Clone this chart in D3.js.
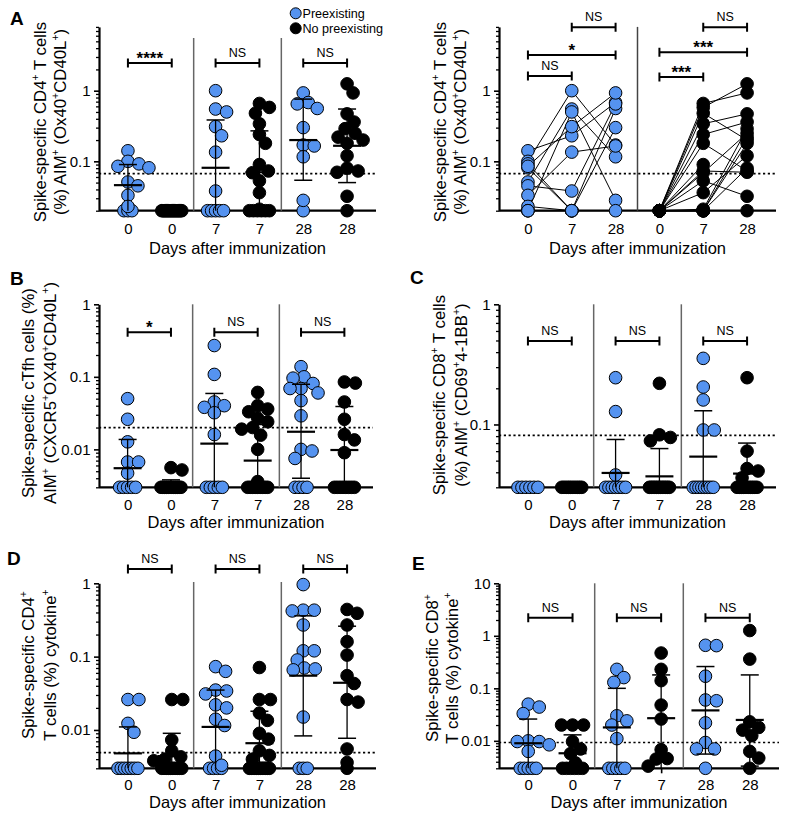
<!DOCTYPE html>
<html><head><meta charset="utf-8">
<script src="https://cdn.jsdelivr.net/npm/d3@7"></script>
<style>body{margin:0;background:#fff} svg text{font-family:"Liberation Sans",Arial,Helvetica,sans-serif;fill:#000}</style>
</head><body><svg id="c" width="793" height="819"></svg>
<script>
// ---------------- DATA ----------------
const dayLabels = ["0","0","7","7","28","28"];
const pairedDayLabels = ["0","7","28","0","7","28"];
const seriesNames = ["Preexisting","No preexisting"];
const colGroup = [0,1,0,1,0,1];
const xTitle = "Days after immunization";

// Panel A: paired subjects (day 0, day 7, day 28); null = missing
const aPreD0  = [0.141,0.10,0.092,0.081,0.051,0.045,0.033,0.023,0.02,0.085,0.02,0.02];
const aPreD7  = [0.23,1.0,0.02,0.02,0.55,0.038,0.135,0.02,0.5,0.31,0.02,0.02];
const aPreD28 = [0.68,0.17,0.56,null,0.116,0.65,0.165,0.3,0.028,0.93,0.02,null];
const aNoD0   = [0.02,0.02,0.02,0.02,0.02,0.02,0.02,0.02,0.02,0.02,0.02,0.02,0.02,0.02,0.02,0.02,0.02,0.02];
const aNoD7   = [0.66,0.58,0.48,0.34,0.24,0.18,0.09,0.073,0.069,0.053,0.036,0.021,0.02,0.02,0.02,0.02,0.02,0.02];
const aNoD28  = [0.93,1.25,0.2,0.47,0.36,0.073,null,0.07,0.25,0.032,0.12,0.29,0.22,0.18,0.08,0.02,null,null];
const aMean  = [0.046,null,0.081,0.07,0.2,0.166];
const aUpper = [0.09,null,0.385,0.27,0.76,0.55];
const aLower = [null,null,null,null,0.054,0.05];
const aThreshold = 0.067;
const aBrackets = ["****","NS","NS"];
const aPairBrackets = [[0,1,"NS"],[0,2,"*"],[1,2,"NS"],[3,4,"***"],[3,5,"***"],[4,5,"NS"]];

// Panel B
const bPre0  = [0.05,0.026,0.0127,0.0067,0.0067,0.0047,0.003,0.003,0.003,0.003,0.003];
const bNo0   = [0.0056,0.0052,0.003,0.003,0.003,0.003,0.003,0.003,0.003,0.003,0.003,0.003,0.003,0.003];
const bPre7  = [0.27,0.108,0.045,0.04,0.038,0.032,0.016,0.003,0.003,0.003,0.003,0.003];
const bNo7   = [0.061,0.04,0.036,0.033,0.027,0.024,0.02,0.019,0.0157,0.01,0.0036,0.003,0.003,0.003,0.003,0.003,0.003,0.003,0.003,0.003];
const bPre28 = [0.138,0.1,0.096,0.081,0.069,0.069,0.06,0.047,0.029,0.01,0.0095,0.0075,0.003,0.003,0.003,0.003];
const bNo28  = [0.085,0.082,0.045,0.026,0.016,0.0135,0.009,0.003,0.003,0.003,0.003,0.003,0.003,0.003,0.003];
const bMean  = [0.0055,0.0032,0.012,0.007,0.0175,0.0098];
const bUpper = [0.0137,0.0038,0.059,0.022,0.079,0.039];
const bLower = [null,null,null,null,0.004,null];
const bThreshold = 0.02;
const bBrackets = ["*","NS","NS"];

// Panel C
const cPre0  = [0.03,0.03,0.03,0.03,0.03,0.03];
const cNo0   = [0.03,0.03,0.03,0.03,0.03,0.03,0.03,0.03,0.03,0.03];
const cPre7  = [0.245,0.128,0.038,0.03,0.03,0.03,0.03,0.03,0.03,0.03];
const cNo7   = [0.22,0.082,0.078,0.073,0.03,0.03,0.03,0.03,0.03,0.03,0.03,0.03,0.03,0.03,0.03,0.03];
const cPre28 = [0.355,0.205,0.16,0.09,0.09,0.03,0.03,0.03,0.03,0.03,0.03,0.03,0.03];
const cNo28  = [0.245,0.06,0.043,0.041,0.036,0.03,0.03,0.03,0.03,0.03,0.03,0.03,0.03,0.03,0.03];
const cMean  = [null,null,0.0395,0.037,0.054,0.039];
const cUpper = [null,null,0.075,0.063,0.13,0.07];
const cLower = [null,null,null,null,null,null];
const cThreshold = 0.081;
const cBrackets = ["NS","NS","NS"];

// Panel D
const dPre0  = [0.026,0.026,0.0123,0.0093,0.003,0.003,0.003,0.003,0.003,0.003,0.003];
const dNo0   = [0.026,0.026,0.0073,0.0052,0.0043,0.004,0.0038,0.003,0.003,0.003,0.003,0.003,0.003,0.003,0.003,0.003,0.003];
const dPre7  = [0.073,0.063,0.035,0.034,0.031,0.022,0.02,0.014,0.0115,0.0044,0.0033,0.003,0.003,0.003,0.003];
const dNo7   = [0.071,0.026,0.026,0.017,0.0135,0.009,0.0075,0.0052,0.0045,0.004,0.003,0.003,0.003,0.003,0.003,0.003,0.003,0.003,0.003,0.003,0.003,0.003];
const dPre28 = [0.96,0.43,0.42,0.43,0.27,0.12,0.12,0.09,0.07,0.068,0.066,0.015,0.003,0.003,0.003];
const dNo28  = [0.44,0.39,0.27,0.16,0.105,0.055,0.043,0.026,0.024,0.0055,0.0036,0.003];
const dMean  = [0.0048,0.0044,0.011,0.0066,0.055,0.044];
const dUpper = [0.011,0.009,0.035,0.018,0.36,0.26];
const dLower = [null,null,null,null,0.0083,0.0077];
const dThreshold = 0.0049;
const dBrackets = ["NS","NS","NS"];

// Panel E
const ePre0  = [0.05,0.044,0.033,0.01,0.0097,0.0097,0.0084,0.0063,0.003,0.003,0.003,0.003,0.003];
const eNo0   = [0.02,0.02,0.02,0.0097,0.007,0.0057,0.0038,0.003,0.003,0.003,0.003,0.003,0.003];
const ePre7  = [0.23,0.16,0.13,0.03,0.024,0.02,0.011,0.003,0.003,0.003,0.003,0.003];
const eNo7   = [0.47,0.23,0.14,0.048,0.026,0.0068,0.0046,0.0045,0.0033];
const ePre28 = [0.66,0.65,0.17,0.06,0.058,0.022,0.0093,0.007,0.007,0.003];
const eNo28  = [1.26,0.36,0.023,0.018,0.016,0.0125,0.0063,0.0047,0.003];
const eMean  = [0.009,0.0058,0.018,0.027,0.038,0.025];
const eUpper = [0.026,0.013,0.1,0.18,0.26,0.18];
const eLower = [null,null,null,null,0.0056,0.0033];
const eThreshold = 0.0093;
const eBrackets = ["NS","NS","NS"];

// ---------------- LAYOUT / STYLE ----------------
const COLORS = ["#5593f0","#000000"];
const R = 6.3;
const svg = d3.select("#c");

const P = {
  A:  {x0:99,x1:376,yTop:26.9,yBot:210.7,domain:[0.02,8],letter:"A",lx:10,ly:25,
       ylab:["Spike-specific CD4{+} T cells","(%) AIM{+} (Ox40{+}CD40L{+})"],ylx:[40,60],yly:122,
       tickPad:8,titleOff:37.5,sepTop:38,brY:63},
  A2: {x0:499,x1:776,yTop:26.9,yBot:210.7,domain:[0.02,8],
       ylab:["Spike-specific CD4{+} T cells","(%) AIM{+} (Ox40{+}CD40L{+})"],ylx:[440,460],yly:122,
       tickPad:8,titleOff:37.5,sepTop:26.9,brYs:[76,55,27.3,77,52.3,27.3]},
  B:  {x0:99,x1:373,yTop:304.3,yBot:487.3,domain:[0.003,1],letter:"B",lx:10,ly:285,
       ylab:["Spike-specific cTfh cells (%)","AIM{+} (CXCR5{+}OX40{+}CD40L{+})"],ylx:[28,50],yly:393,
       tickPad:7,titleOff:34.5,sepTop:304.3,brY:332.3},
  C:  {x0:499,x1:776,yTop:304.3,yBot:487.3,domain:[0.03,1],letter:"C",lx:410,ly:284,
       ylab:["Spike-specific CD8{+} T cells","(%) AIM{+} (CD69{+}4-1BB{+})"],ylx:[439,461],yly:395,
       tickPad:7,titleOff:34.5,sepTop:304.3,brY:341},
  D:  {x0:99,x1:376,yTop:583.3,yBot:768.3,domain:[0.003,1],letter:"D",lx:7,ly:565,
       ylab:["Spike-specific CD4{+}","T cells (%) cytokine{+}"],ylx:[28,50],yly:665,
       tickPad:6,titleOff:34,sepTop:582,brY:569},
  E:  {x0:499,x1:779,yTop:583.3,yBot:768.3,domain:[0.003,10],letter:"E",lx:412,ly:570,
       ylab:["Spike-specific CD8{+}","T cells (%) cytokine{+}"],ylx:[432,452],yly:668,
       tickPad:6,titleOff:34,sepTop:583.3,brY:617.7}
};

function supText(sel, str, fs){
  const parts = str.split(/(\{[^}]*\})/).filter(s=>s.length);
  let up = false;
  parts.forEach(s=>{
    if (s[0]==="{"){
      sel.append("tspan").attr("font-size",fs*0.62).attr("dy",-fs*0.42).text(s.slice(1,-1));
      up = true;
    } else {
      const t = sel.append("tspan").text(s);
      if (up){ t.attr("dy",fs*0.42); up=false; }
    }
  });
}

function drawFrame(p, labels){
  const g = svg.append("g");
  const y = d3.scaleLog().domain(p.domain).range([p.yBot,p.yTop]);
  const x = d3.scalePoint().domain(d3.range(labels.length)).range([p.x0,p.x1]).padding(0.66);
  const lo=Math.log10(p.domain[0]), hi=Math.log10(p.domain[1]);
  const majors=[], minors=[];
  for(let e=Math.floor(lo)-1;e<=Math.ceil(hi);e++){
    for(let k=1;k<10;k++){
      const v=+(k*Math.pow(10,e)).toPrecision(6);
      if(v<p.domain[0]*0.999||v>p.domain[1]*1.001) continue;
      (k===1?majors:minors).push(v);
    }
  }
  const ya = g.append("g").attr("transform",`translate(${p.x0},0)`)
    .call(d3.axisLeft(y).tickValues(majors).tickFormat(v=>String(v)).tickSize(5).tickSizeOuter(0).tickPadding(3.5));
  ya.select(".domain").attr("stroke-width",2.2).attr("stroke","#000");
  ya.selectAll(".tick line").attr("stroke-width",1.6);
  ya.selectAll(".tick text").attr("font-size",15).attr("font-family","Liberation Sans, Arial, sans-serif");
  const ym = g.append("g").attr("transform",`translate(${p.x0},0)`)
    .call(d3.axisLeft(y).tickValues(minors).tickFormat("").tickSize(3).tickSizeOuter(0));
  ym.select(".domain").remove();
  ym.selectAll(".tick line").attr("stroke-width",1.3);
  const xa = g.append("g").attr("transform",`translate(0,${p.yBot})`)
    .call(d3.axisBottom(x).tickFormat(i=>labels[i]).tickSize(5).tickSizeOuter(0).tickPadding(p.tickPad));
  xa.select(".domain").attr("stroke-width",2.2).attr("stroke","#000").attr("d",`M${p.x0},0H${p.x1}`);
  xa.selectAll(".tick line").attr("stroke-width",1.6);
  xa.selectAll(".tick text").attr("font-size",15).attr("font-family","Liberation Sans, Arial, sans-serif");
  g.append("text").attr("x",(p.x0+p.x1)/2).attr("y",p.yBot+p.titleOff+6).attr("text-anchor","middle")
    .attr("font-size",16.5).text(xTitle);
  p.ylab.forEach((l,i)=>{
    const t = g.append("text").attr("transform",`translate(${p.ylx[i]+16.8*0.35},${p.yly}) rotate(-90)`)
      .attr("text-anchor","middle").attr("font-size",16.8);
    supText(t,l,16.8);
  });
  if(p.letter) g.append("text").attr("x",p.lx).attr("y",p.ly).attr("font-size",19).attr("font-weight","bold").text(p.letter);
  return {g,x,y};
}

function bracket(g,x1,x2,yb,label){
  g.append("path").attr("d",`M${x1},${yb-4.5}V${yb+4.5}M${x1},${yb}H${x2}M${x2},${yb-4.5}V${yb+4.5}`)
    .attr("stroke","#000").attr("stroke-width",2).attr("fill","none");
  const isStar = label.indexOf("*")>=0;
  g.append("text").attr("x",(x1+x2)/2).attr("y",isStar?yb+1:yb-6).attr("text-anchor","middle")
    .attr("font-size",isStar?17:12.5).attr("font-weight",isStar?"bold":"normal").text(label);
}

function swarm(vals, y, floorVal, cx){
  const out=[];
  const floor = vals.filter(v=>v<=floorVal*1.0001);
  const rest = vals.filter(v=>v>floorVal*1.0001).slice().sort((a,b)=>b-a);
  const n=floor.length, w=Math.min((n-1)*4,20);
  floor.forEach((v,i)=>out.push({x:cx+(n>1?-w/2+i*w/(n-1):0),y:y(v)}));
  const placed=[]; const D=10.5;
  rest.forEach(v=>{
    const py=y(v);
    for(let k=0;k<400;k++){
      const off = k===0?0:(k%2===1?(k+1)/2:-k/2);
      let ok=true;
      for(const q of placed){const dx=off-q.dx,dy=py-q.y; if(dx*dx+dy*dy<D*D){ok=false;break;}}
      if(ok){placed.push({dx:off,y:py}); out.push({x:cx+off,y:py}); break;}
    }
  });
  return out;
}

function drawGrouped(p, cols, mean, upper, lower, thr, brLabels, legend){
  const {g,x,y} = drawFrame(p, dayLabels);
  [(x(1)+x(2))/2,(x(3)+x(4))/2].forEach(sx=>{
    g.append("line").attr("x1",sx).attr("x2",sx).attr("y1",p.sepTop).attr("y2",p.yBot)
      .attr("stroke","#666").attr("stroke-width",1.5);
  });
  g.append("line").attr("x1",p.x0).attr("x2",p.x1).attr("y1",y(thr)).attr("y2",y(thr))
    .attr("stroke","#000").attr("stroke-width",1.7).attr("stroke-dasharray","2.2,2.6");
  cols.forEach((vals,i)=>{
    const pts = swarm(vals,y,p.domain[0],x(i));
    g.append("g").selectAll("circle").data(pts).join("circle")
      .attr("cx",d=>d.x).attr("cy",d=>d.y).attr("r",R)
      .attr("fill",COLORS[colGroup[i]]).attr("stroke","#000").attr("stroke-width",1);
  });
  cols.forEach((vals,i)=>{
    if(mean[i]==null) return;
    const cx=x(i), eb=g.append("g").attr("stroke","#000").attr("fill","none");
    const yu = upper[i]!=null?y(upper[i]):y(mean[i]);
    const yl = lower[i]!=null?y(lower[i]):p.yBot;
    eb.append("line").attr("x1",cx).attr("x2",cx).attr("y1",yu).attr("y2",yl).attr("stroke-width",1.3);
    if(upper[i]!=null) eb.append("line").attr("x1",cx-9).attr("x2",cx+9).attr("y1",yu).attr("y2",yu).attr("stroke-width",1.5);
    if(lower[i]!=null) eb.append("line").attr("x1",cx-9).attr("x2",cx+9).attr("y1",yl).attr("y2",yl).attr("stroke-width",1.5);
    eb.append("line").attr("x1",cx-14).attr("x2",cx+14).attr("y1",y(mean[i])).attr("y2",y(mean[i])).attr("stroke-width",2.2);
  });
  brLabels.forEach((lab,k)=>bracket(g,x(2*k),x(2*k+1),p.brY,lab));
  if(legend){
    seriesNames.forEach((s,i)=>{
      const ly=13.3+15*i;
      g.append("circle").attr("cx",295.7).attr("cy",ly).attr("r",5.5).attr("fill",COLORS[i]).attr("stroke","#000");
      g.append("text").attr("x",302.5).attr("y",ly).attr("dy","0.36em").attr("font-size",12.6).text(s);
    });
  }
}

// -------- Panel A (left, grouped) --------
drawGrouped(P.A,
  [aPreD0.filter(v=>v!=null),aNoD0.filter(v=>v!=null),aPreD7.filter(v=>v!=null),
   aNoD7.filter(v=>v!=null),aPreD28.filter(v=>v!=null),aNoD28.filter(v=>v!=null)],
  aMean,aUpper,aLower,aThreshold,aBrackets,true);

// -------- Panel A (right, paired) --------
(function(){
  const p=P.A2;
  const {g,x,y}=drawFrame(p,pairedDayLabels);
  const sx=(x(2)+x(3))/2;
  g.append("line").attr("x1",sx).attr("x2",sx).attr("y1",p.sepTop).attr("y2",p.yBot).attr("stroke","#444").attr("stroke-width",1.5);
  g.append("line").attr("x1",p.x0).attr("x2",p.x1).attr("y1",y(aThreshold)).attr("y2",y(aThreshold))
    .attr("stroke","#000").attr("stroke-width",1.7).attr("stroke-dasharray","2.2,2.6");
  const sets=[[aPreD0,aPreD7,aPreD28,0],[aNoD0,aNoD7,aNoD28,3]];
  const line=d3.line().x(d=>d[0]).y(d=>d[1]);
  sets.forEach(([d0,d7,d28,off])=>{
    d0.forEach((v,i)=>{
      const pts=[[x(off),y(v)],[x(off+1),y(d7[i])]];
      if(d28[i]!=null) pts.push([x(off+2),y(d28[i])]);
      g.append("path").attr("d",line(pts)).attr("fill","none").attr("stroke","#000").attr("stroke-width",1);
    });
  });
  sets.forEach(([d0,d7,d28,off],si)=>{
    [d0,d7,d28].forEach((arr,k)=>{
      g.append("g").selectAll("circle").data(arr.filter(v=>v!=null)).join("circle")
        .attr("cx",x(off+k)).attr("cy",d=>y(d)).attr("r",R)
        .attr("fill",COLORS[si]).attr("stroke","#000").attr("stroke-width",1);
    });
  });
  aPairBrackets.forEach((b,k)=>bracket(g,x(b[0]),x(b[1]),p.brYs[k],b[2]));
})();

drawGrouped(P.B,[bPre0,bNo0,bPre7,bNo7,bPre28,bNo28],bMean,bUpper,bLower,bThreshold,bBrackets,false);
drawGrouped(P.C,[cPre0,cNo0,cPre7,cNo7,cPre28,cNo28],cMean,cUpper,cLower,cThreshold,cBrackets,false);
drawGrouped(P.D,[dPre0,dNo0,dPre7,dNo7,dPre28,dNo28],dMean,dUpper,dLower,dThreshold,dBrackets,false);
drawGrouped(P.E,[ePre0,eNo0,ePre7,eNo7,ePre28,eNo28],eMean,eUpper,eLower,eThreshold,eBrackets,false);
</script></body></html>
